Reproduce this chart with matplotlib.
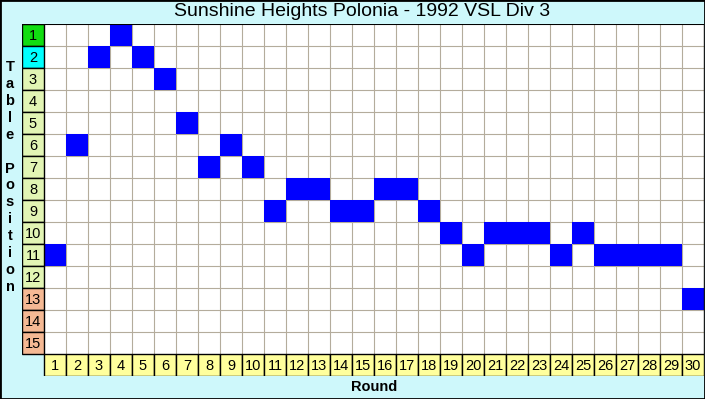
import matplotlib
matplotlib.use("Agg")
import matplotlib.pyplot as plt
from matplotlib.patches import Rectangle

plt.rcParams["font.family"] = ["Liberation Sans", "DejaVu Sans"]

title = "Sunshine Heights Polonia - 1992 VSL Div 3"
rounds = list(range(1, 31))
positions = [11, 6, 2, 1, 2, 3, 5, 7, 6, 7, 9, 8, 8, 9, 9,
             8, 8, 9, 10, 11, 10, 10, 10, 11, 10, 11, 11, 11, 11, 13]
table_rows = list(range(1, 16))
row_colors = ["#11dd11", "#00ffff"] + ["#e2f5b4"] * 10 + ["#f5b994"] * 3

W, H = 705, 399
fig = plt.figure(figsize=(W / 100, H / 100), dpi=100)
fig.patch.set_facecolor("#cef8fb")

# outer black border
fig.add_artist(Rectangle((0, 0), 1, 1, transform=fig.transFigure, fill=False,
                         edgecolor="black", lw=2))

left, right, top, bottom = 22, 704, 24, 376
ax = fig.add_axes([left / W, 1 - bottom / H, (right - left) / W, (bottom - top) / H])
ax.set_xlim(-0.5, 30.5)
ax.set_ylim(16.5, 0.5)
ax.axis("off")

# white grid area
ax.add_patch(Rectangle((0.5, 0.5), 30, 15, facecolor="white", edgecolor="none", zorder=0))
for x in range(1, 30):
    ax.plot([x + 0.5, x + 0.5], [0.5, 15.5], color="#b4ac9c", lw=0.8, zorder=1)
for y in range(1, 15):
    ax.plot([0.5, 30.5], [y + 0.5, y + 0.5], color="#b4ac9c", lw=0.8, zorder=1)

# position cells
ax.bar(rounds, [1] * len(rounds), bottom=[p - 0.5 for p in positions], width=1,
       color="#0000ff", edgecolor="none", zorder=2)

# left label column
ax.bar([0] * len(table_rows), [1] * len(table_rows),
       bottom=[r - 0.5 for r in table_rows], width=1,
       color=row_colors, edgecolor="black", lw=1, zorder=3)
for r in table_rows:
    ax.text(0, r + 0.05, str(r), ha="center", va="center", fontsize=10.5, zorder=4)

# bottom round labels
ax.bar(rounds, [1] * len(rounds), bottom=15.5, width=1,
       color="#ffff9c", edgecolor="black", lw=1, zorder=3)
for r in rounds:
    ax.text(r, 16.05, str(r), ha="center", va="center", fontsize=10.5, zorder=4)

# frame around the grid
ax.plot([-0.5, 30.5], [0.5, 0.5], color="black", lw=1.5, zorder=5)
ax.plot([30.5, 30.5], [0.5, 15.5], color="black", lw=1.0, zorder=5)

fig.text(362 / W, 1 - 12 / H, title, ha="center", va="center", fontsize=14)
fig.text(374 / W, 1 - 387 / H, "Round", ha="center", va="center",
         fontsize=10.5, fontweight="bold")
fig.text(10 / W, 1 - 177 / H, "\n".join("Table Position"), ha="center", va="center",
         fontsize=10.5, fontweight="bold", linespacing=1.27)

fig.savefig("out.png", dpi=100, facecolor=fig.get_facecolor())
